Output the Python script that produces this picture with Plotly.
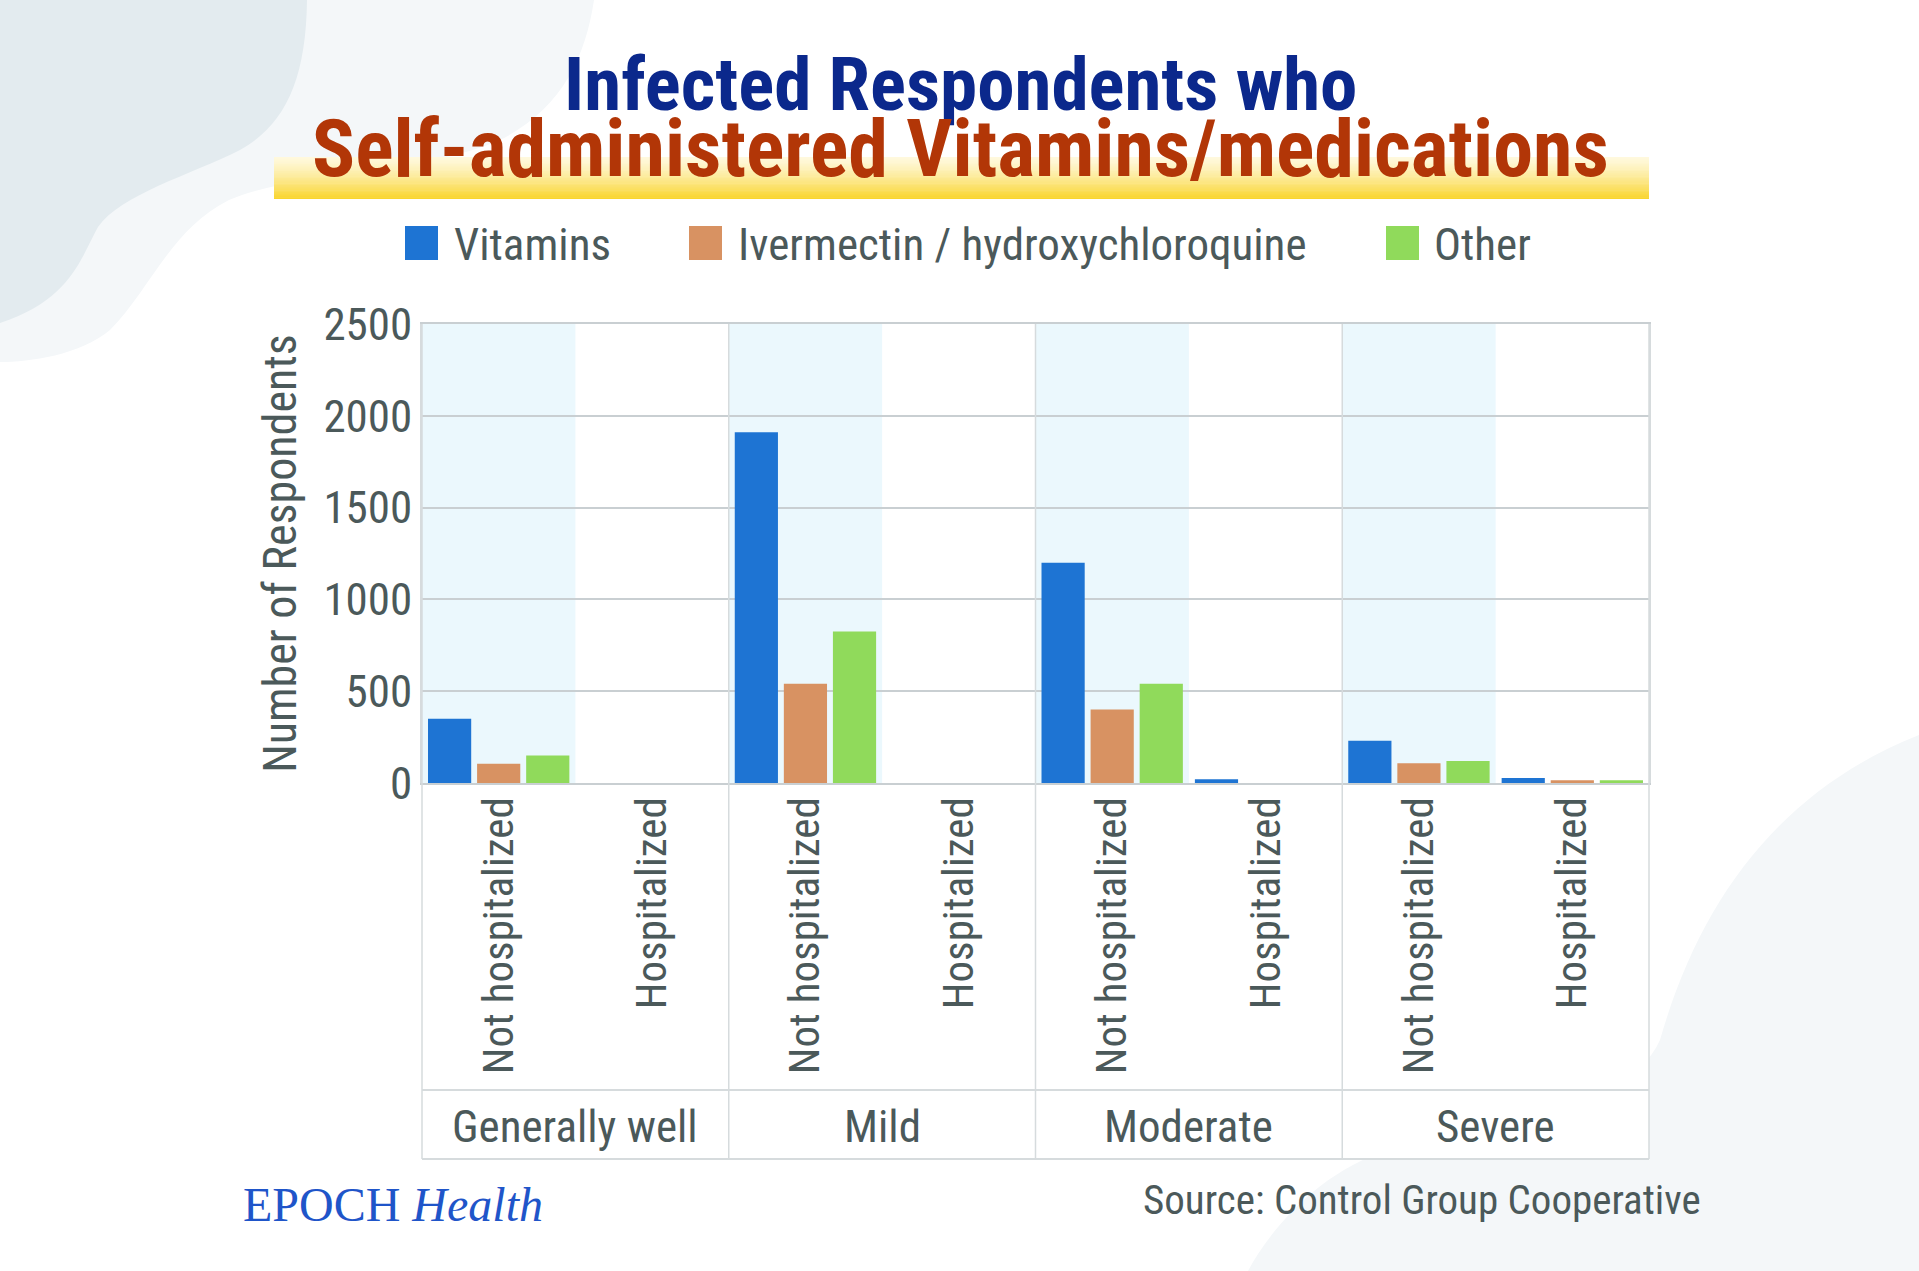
import plotly.graph_objects as go

# ---------------- data ----------------
severity = ["Generally well", "Generally well", "Mild", "Mild",
            "Moderate", "Moderate", "Severe", "Severe"]
hospital = ["Not hospitalized", "Hospitalized"] * 4
vitamins = [350, 0, 1910, 0, 1200, 20, 230, 27]
ivermectin = [105, 0, 540, 0, 400, 0, 107, 15]
other = [150, 0, 825, 0, 540, 0, 120, 15]
series_names = ["Vitamins", "Ivermectin / hydroxychloroquine", "Other"]
series_values = [vitamins, ivermectin, other]
series_colors = ["#1E74D3", "#D89262", "#90DA5B"]
y_ticks = [0, 500, 1000, 1500, 2000, 2500]
groups = ["Generally well", "Mild", "Moderate", "Severe"]
title1 = "Infected Respondents who"
title2 = "Self-administered Vitamins/medications"
source = "Source: Control Group Cooperative"

# ---------------- layout constants ----------------
W, H = 1919, 1271
L, T = 422, 324
PW, PH = 1227, 459
FONT = "Liberation Sans Narrow, Roboto Condensed, Lato, sans-serif"
TXT = "#4B595A"
GRID = "#C9CFD2"
BORDER = "#D6DBDD"

def px(x):
    return (x - L) / PW

def py(y):
    return (T + PH - y) / PH

def path(points):
    s = ""
    for cmd, pts in points:
        s += cmd
        s += " ".join("%.5f,%.5f" % (px(a), py(b)) for a, b in pts)
        s += " "
    return s + "Z"

n = len(hospital)
idx = list(range(n))

fig = go.Figure()
for name, vals, col in zip(series_names, series_values, series_colors):
    fig.add_trace(go.Bar(x=idx, y=vals, name=name, marker_color=col,
                         marker_line_width=0, showlegend=False))

shapes = []
# background blobs
shapes.append(dict(type="path", xref="paper", yref="paper", layer="below",
                   fillcolor="#F4F7F9", line_width=0,
                   path=path([("M", [(0, 0)]), ("L", [(594, 0)]),
                              ("C", [(585, 60), (560, 110), (500, 140)]),
                              ("C", [(420, 175), (300, 170), (229, 200)]),
                              ("C", [(170, 230), (150, 290), (110, 330)]),
                              ("C", [(80, 355), (30, 362), (0, 362)])])))
shapes.append(dict(type="path", xref="paper", yref="paper", layer="below",
                   fillcolor="#E3EBEF", line_width=0,
                   path=path([("M", [(0, 0)]), ("L", [(307, 0)]),
                              ("C", [(306, 80), (285, 125), (240, 150)]),
                              ("C", [(190, 175), (120, 195), (98, 227)]),
                              ("C", [(80, 260), (70, 300), (0, 323)])])))
shapes.append(dict(type="path", xref="paper", yref="paper", layer="below",
                   fillcolor="#F4F7F9", line_width=0,
                   path=path([("M", [(1919, 735)]),
                              ("C", [(1780, 790), (1700, 900), (1660, 1040)]),
                              ("C", [(1630, 1110), (1480, 1130), (1390, 1150)]),
                              ("C", [(1320, 1170), (1270, 1230), (1248, 1271)]),
                              ("L", [(1919, 1271)])])))
# white table area
shapes.append(dict(type="rect", xref="paper", yref="paper", layer="below",
                   x0=0, x1=1, y0=py(1159), y1=1, fillcolor="white", line_width=0))
# yellow gradient bar behind title line 2
top_c = (255, 249, 222)
bot_c = (249, 212, 42)
NS = 24
y_top, y_bot = 157, 199
for k in range(NS):
    t = (k + 0.5) / NS
    tt = t ** 1.3
    c = tuple(int(round(top_c[j] + (bot_c[j] - top_c[j]) * tt)) for j in range(3))
    ya = y_top + (y_bot - y_top) * k / NS
    yb = y_top + (y_bot - y_top) * (k + 1) / NS + 0.6
    shapes.append(dict(type="rect", xref="paper", yref="paper", layer="below",
                       x0=px(274), x1=px(1649), y0=py(min(yb, y_bot)), y1=py(ya),
                       fillcolor="rgb(%d,%d,%d)" % c, line_width=0))
# shading of "Not hospitalized" categories
for i, h in enumerate(hospital):
    if h == "Not hospitalized":
        shapes.append(dict(type="rect", xref="x", yref="y", layer="below",
                           x0=i - 0.5, x1=i + 0.5, y0=y_ticks[0], y1=y_ticks[-1],
                           fillcolor="#EBF8FD", line_width=0))

def xp(v):
    return (v + 0.5) / n

# table lines
y_mid = py(1090)
y_bottom = py(1159)
bounds = [-0.5] + [i + 0.5 for i in range(n - 1) if severity[i] != severity[i + 1]] + [n - 0.5]
for b in bounds:
    shapes.append(dict(type="line", xref="paper", yref="paper", layer="above",
                       x0=xp(b), x1=xp(b), y0=y_bottom, y1=1,
                       line=dict(color=BORDER, width=1.5)))
for yy in (y_mid, y_bottom):
    shapes.append(dict(type="line", xref="paper", yref="paper", layer="above",
                       x0=0, x1=1, y0=yy, y1=yy, line=dict(color=BORDER, width=2)))

# manual legend
leg_sq = [405, 689, 1386]
leg_tx = [452, 736, 1432]
for name, col, sx, tx in zip(series_names, series_colors, leg_sq, leg_tx):
    shapes.append(dict(type="rect", xref="paper", yref="paper", layer="above",
                       x0=px(sx), x1=px(sx + 33), y0=py(260), y1=py(226),
                       fillcolor=col, line_width=0))

annotations = []
for name, tx in zip(series_names, leg_tx):
    annotations.append(dict(text=name, xref="paper", yref="paper", x=px(tx), y=py(244),
                            xanchor="left", yanchor="middle", showarrow=False,
                            font=dict(family=FONT, size=45, color=TXT)))
# titles
annotations.append(dict(text=title1, xref="paper", yref="paper", x=px(960), y=py(84),
                        xanchor="center", yanchor="middle", showarrow=False,
                        font=dict(family=FONT, size=75, color="#0B288C", weight="bold")))
annotations.append(dict(text=title2, xref="paper", yref="paper", x=px(960), y=py(149),
                        xanchor="center", yanchor="middle", showarrow=False,
                        font=dict(family=FONT, size=80, color="#B23607", weight="bold")))
# outer group labels
for g in groups:
    members = [i for i, s in enumerate(severity) if s == g]
    annotations.append(dict(text=g, xref="x", yref="paper",
                            x=sum(members) / len(members), y=py(1126),
                            xanchor="center", yanchor="middle", showarrow=False,
                            font=dict(family=FONT, size=45, color=TXT)))
# source and logo
annotations.append(dict(text=source, xref="paper", yref="paper", x=px(1703), y=py(1200),
                        xanchor="right", yanchor="middle", showarrow=False,
                        font=dict(family=FONT, size=41, color=TXT)))
annotations.append(dict(text="EPOCH <i>Health</i>", xref="paper", yref="paper",
                        x=px(241), y=py(1204), xanchor="left", yanchor="middle",
                        showarrow=False,
                        font=dict(family="Liberation Serif, DejaVu Serif, serif",
                                  size=48, color="#1F55C9")))

fig.update_layout(
    width=W, height=H, autosize=False,
    margin=dict(l=L, r=W - L - PW, t=T, b=H - T - PH, pad=0),
    paper_bgcolor="white", plot_bgcolor="rgba(0,0,0,0)",
    barmode="group", bargap=0.04, bargroupgap=0.12,
    shapes=shapes, annotations=annotations, showlegend=False,
    font=dict(family=FONT, color=TXT),
)
fig.update_xaxes(range=[-0.5, n - 0.5], tickmode="array", tickvals=idx, ticktext=hospital,
                 tickangle=-90, tickfont=dict(family=FONT, size=43, color=TXT),
                 ticks="", ticklabelstandoff=-5, showgrid=False, zeroline=False,
                 showline=True, linecolor=GRID, linewidth=2, mirror=True, fixedrange=True)
fig.update_yaxes(range=[y_ticks[0], y_ticks[-1]], tickmode="array", tickvals=y_ticks,
                 tickfont=dict(family=FONT, size=45, color=TXT), ticks="",
                 ticklabelstandoff=-1, showgrid=True, gridcolor=GRID, gridwidth=1.5,
                 zeroline=False, showline=True, linecolor=BORDER, linewidth=1.5, mirror=True,
                 title=dict(text="Number of Respondents", standoff=12,
                            font=dict(family=FONT, size=46, color=TXT)),
                 fixedrange=True)

fig.write_html("out.html", post_script="document.body.style.margin='0';",
               config={"displayModeBar": False})
